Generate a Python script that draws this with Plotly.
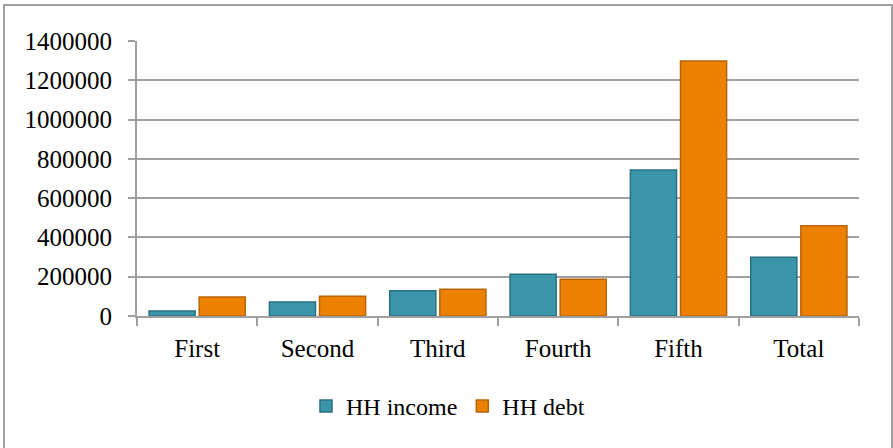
import plotly.graph_objects as go

# Data
categories = ['First', 'Second', 'Third', 'Fourth', 'Fifth', 'Total']
hh_income = [25000, 71000, 129000, 213000, 743000, 299000]
hh_debt = [97000, 100000, 136000, 187000, 1298000, 460000]
y_ticks = list(range(0, 1400001, 200000))

W, H = 893, 448
L, R, T, B = 137, 34, 41, 131.5
pw, ph = W - L - R, H - T - B

fig = go.Figure()
fig.add_trace(go.Bar(x=categories, y=hh_income, name='HH income',
                     marker=dict(color='#3b96ab', line=dict(color='#2a6f80', width=1.5))))
fig.add_trace(go.Bar(x=categories, y=hh_debt, name='HH debt',
                     marker=dict(color='#ec8100', line=dict(color='#b96408', width=1.5))))

font = dict(family='Liberation Serif, Times New Roman, serif', size=25, color='black')

fig.update_layout(
    width=W, height=H,
    margin=dict(l=L, r=R, t=T, b=B),
    paper_bgcolor='white', plot_bgcolor='white',
    font=font,
    barmode='group', bargap=0.167, bargroupgap=0.08,
    showlegend=True,
    legend=dict(orientation='h', x=(448 - L) / pw, xanchor='center',
                y=(T + ph - 407) / ph, yanchor='middle',
                font=dict(font, size=24), itemwidth=30, traceorder='normal'),
    xaxis=dict(showline=True, linecolor='#a0a0a0', linewidth=2,
               ticks='outside', ticklen=8, tickcolor='#a0a0a0', tickwidth=2,
               tickson='boundaries', showgrid=False, ticklabelstandoff=9),
    yaxis=dict(range=[0, 1400000], tickvals=y_ticks,
               ticktext=[str(v) for v in y_ticks],
               showline=True, linecolor='#a0a0a0', linewidth=2,
               ticks='outside', ticklen=7, tickcolor='#a0a0a0', tickwidth=2,
               showgrid=True, gridcolor='#a0a0a0', gridwidth=2,
               zeroline=False, ticklabelstandoff=11),
)

# outer chart border
fig.add_shape(type='rect', xref='paper', yref='paper',
              x0=(4 - L) / pw, x1=(892 - L) / pw,
              y0=(T + ph - 460) / ph, y1=(T + ph - 5) / ph,
              line=dict(color='#a0a0a0', width=2), fillcolor='rgba(0,0,0,0)', layer='below')

fig.write_html('out.html', config={'displayModeBar': False},
               post_script="document.body.style.margin='0';document.body.style.overflow='hidden';")
